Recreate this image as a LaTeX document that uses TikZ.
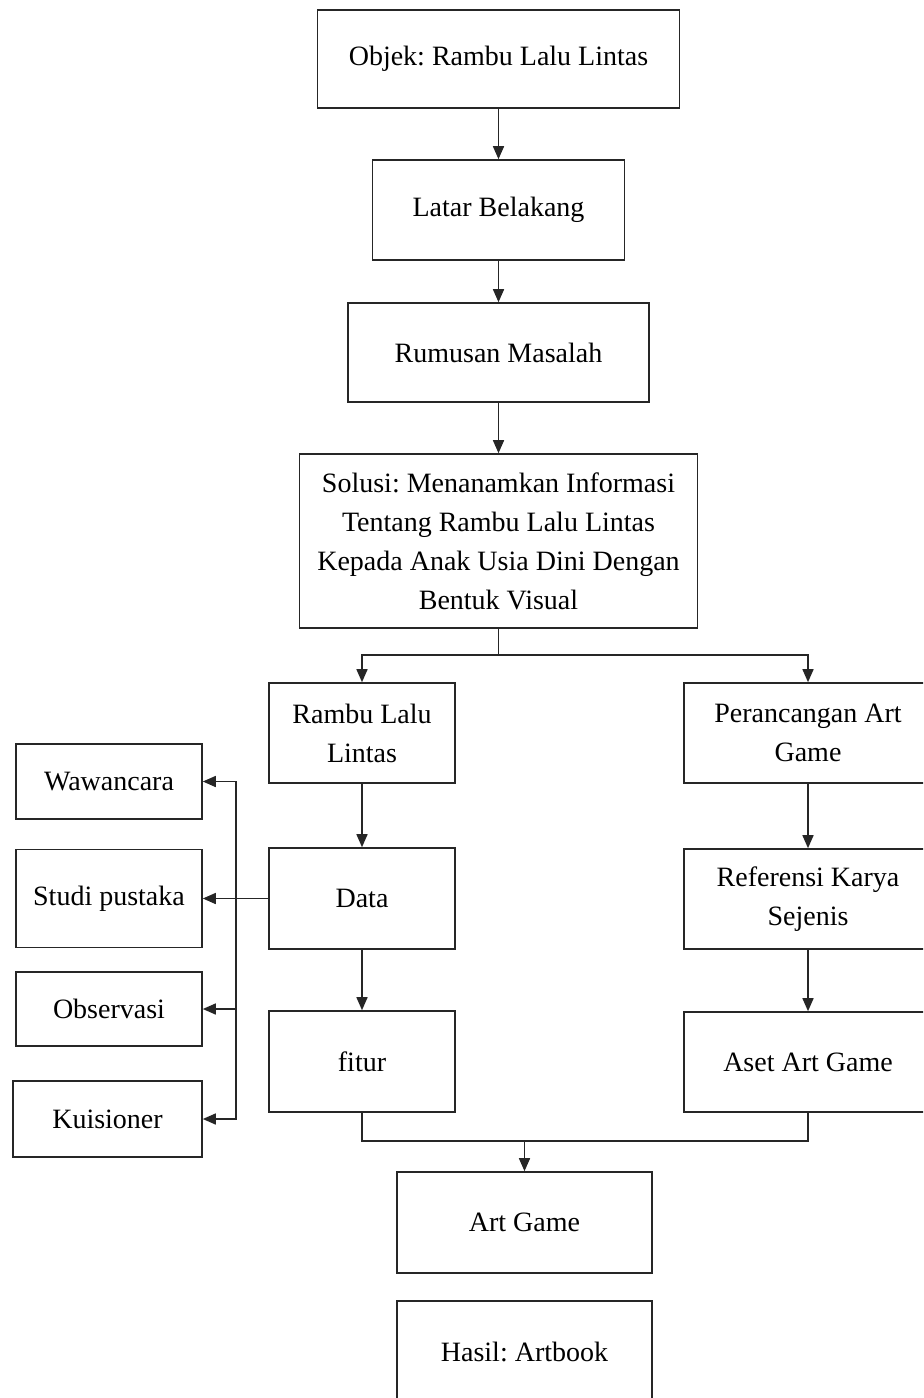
\documentclass[tikz,border=0pt]{standalone}
\usepackage{fontspec}
\setmainfont{Liberation Serif}
\usetikzlibrary{arrows.meta,positioning}
\frenchspacing

\tikzset{
  box/.style={draw=black!85, line width=0.8pt, align=center, inner sep=0pt,
    font=\fontsize{14}{19.5}\selectfont},
  leftbox/.style={box, minimum width=93pt, minimum height=50pt},
  rightbox/.style={box, minimum width=124pt, minimum height=50pt},
  sidebox/.style={box, minimum width=93pt},
  arr/.style={-{Triangle[length=6.5pt,width=5.5pt]}, line width=0.75pt, black!85},
  ln/.style={line width=0.75pt, black!85}
}

\begin{document}
\begin{tikzpicture}[x=0.5pt,y=-0.5pt]
\useasboundingbox (0,0) rectangle (923,1398);
\clip (0,0) rectangle (923,1398);

% main column
\node[box, minimum width=181pt, minimum height=49pt] (objek) at (498.5,59) {Objek: Rambu Lalu Lintas};
\node[box, minimum width=126pt, minimum height=50pt] (latar) at (498.5,210) {Latar Belakang};
\node[box, minimum width=150.5pt, minimum height=49.5pt] (rumusan) at (498.5,352.5) {Rumusan Masalah};
\node[box, minimum width=199pt, minimum height=87pt] (solusi) at (498.5,541) {Solusi: Menanamkan Informasi\\Tentang Rambu Lalu Lintas\\Kepada Anak Usia Dini Dengan\\Bentuk Visual};

% left branch
\node[leftbox] (rambu) at (362,733) {Rambu Lalu\\Lintas};
\node[leftbox, minimum height=50.5pt] (data) at (362,898.5) {Data};
\node[leftbox, minimum height=50.5pt] (fitur) at (362,1061.5) {fitur};

% right branch
\node[rightbox] (rancang) at (808,733) {Perancangan Art\\Game};
\node[rightbox] (referensi) at (808,899) {Referensi Karya\\Sejenis};
\node[rightbox] (aset) at (808,1062) {Aset Art Game};

% data sources
\node[sidebox, minimum height=37.5pt] (wawancara) at (109,781.5) {Wawancara};
\node[sidebox, minimum height=49pt] (studi) at (109,898.5) {Studi pustaka};
\node[sidebox, minimum height=37pt] (observasi) at (109,1009) {Observasi};
\node[sidebox, minimum width=94.5pt, minimum height=38pt] (kuisioner) at (107.5,1119) {Kuisioner};

% results
\node[box, minimum width=127.5pt, minimum height=50.5pt] (artgame) at (524.5,1222.5) {Art Game};
\node[box, minimum width=127.5pt, minimum height=50.5pt] (hasil) at (524.5,1351.5) {Hasil: Artbook};

\coordinate (split) at (498.5,655);
\coordinate (bus) at (236,898.5);
\coordinate (join) at (524.5,1141);

\draw[arr] (objek) -- (latar);
\draw[arr] (latar) -- (rumusan);
\draw[arr] (rumusan) -- (solusi);
\draw[ln] (solusi.south) -- (split);
\draw[arr] (split) -| (rambu.north);
\draw[arr] (split) -| (rancang.north);

\draw[arr] (rambu) -- (data);
\draw[arr] (data) -- (fitur);
\draw[arr] (rancang) -- (referensi);
\draw[arr] (referensi) -- (aset);

\draw[arr] (data.west) -- (studi.east);
\draw[arr] (bus) |- (wawancara.east);
\draw[arr] (bus) |- (observasi.east);
\draw[arr] (bus) |- (kuisioner.east);

\draw[ln] (fitur.south) |- (join);
\draw[ln] (aset.south) |- (join);
\draw[arr] (join) -- (artgame.north);
\end{tikzpicture}
\end{document}
